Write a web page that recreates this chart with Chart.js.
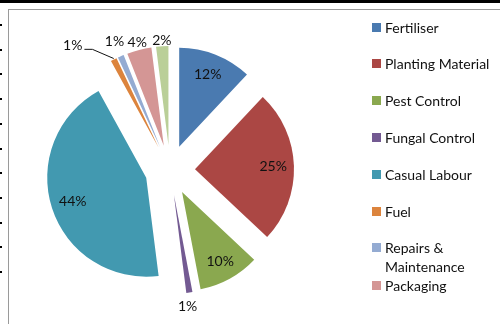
<!DOCTYPE html>
<html>
<head>
<meta charset="utf-8">
<script src="https://cdn.jsdelivr.net/npm/chart.js@4.4.1/dist/chart.umd.min.js"></script>
<style>
  body { margin: 0; background: #fff; overflow: hidden; }
  #wrap { position: relative; width: 500px; height: 324px; overflow: hidden; font-family: Lato, "Liberation Sans", sans-serif; }
  #topbar { position: absolute; left: 0; top: 0; width: 500px; height: 3px; background: #000; }
  #frame { position: absolute; left: 8px; top: 9px; width: 520px; height: 340px; border-left: 1px solid #9a9a9a; border-top: 1px solid #9a9a9a; }
  .tick { position: absolute; left: 0; width: 2px; height: 2px; background: #000; }
  #chart { position: absolute; left: 0; top: 0; }
  #legend { position: absolute; left: 372px; top: 0; width: 125px; font-size: 14px; color: #111; }
  .item { position: absolute; left: 0; width: 125px; line-height: 19px; }
  .sw { position: absolute; left: 0; top: 5px; width: 9px; height: 9px; }
  .txt { margin-left: 13px; width: 108px; }
</style>
</head>
<body>
<div id="wrap">
  <div id="topbar"></div>
  <div id="frame"></div>
  <canvas id="chart" width="500" height="324"></canvas>
  <div id="legend"></div>
</div>
<script>
  // cost shares, percent
  const categories = ['Fertiliser', 'Planting Material', 'Pest Control', 'Fungal Control', 'Casual Labour',
    'Fuel', 'Repairs & Maintenance', 'Packaging', 'Other'];
  const shares = [12, 25, 10, 1, 44, 1, 1, 4, 2];
  const colors = ['#4a7ab0', '#ab4744', '#8aa84f', '#735a92', '#4299b0', '#dc843d', '#94abd2', '#d49695', '#bacf98'];

  // label placement: radius factor from each exploded slice's own centre, plus a small turn in degrees
  const labelRadius = [0.78, 0.79, 0.8, 1.14, 0.78, 1.35, 1.16, 1.08, 1.06];
  const labelTurn = [0, 0, 0, 2, 0, -13, 0, 0, 0];

  // Excel-style explode: move the whole slice out, keep its shape
  class ExplodedArc extends Chart.ArcElement {
    static id = 'explodedArc';
    static defaults = { explode: 0 };
    draw(ctx, area) {
      const mid = (this.startAngle + this.endAngle) / 2;
      const d = this.options.explode || 0;
      ctx.save();
      ctx.translate(Math.cos(mid) * d, Math.sin(mid) * d);
      super.draw(ctx, area);
      ctx.restore();
    }
  }
  class ExplodedPie extends Chart.PieController {
    static id = 'explodedPie';
    static defaults = { dataElementType: 'explodedArc' };
  }
  Chart.register(ExplodedArc, ExplodedPie);

  // decorations of the cropped page
  const wrap = document.getElementById('wrap');
  for (let i = 0; i < 11; i++) {
    const t = document.createElement('div');
    t.className = 'tick';
    t.style.top = Math.round(24 + i * 24.7) + 'px';
    wrap.appendChild(t);
  }

  // legend (the last entry is cut off in the original)
  const legendTops = [18, 54, 91, 128, 165, 202, 238, 276];
  const legend = document.getElementById('legend');
  legendTops.forEach((top, i) => {
    const it = document.createElement('div');
    it.className = 'item';
    it.style.top = top + 'px';
    it.innerHTML = '<div class="sw" style="background:' + colors[i] + '"></div><div class="txt"></div>';
    it.querySelector('.txt').textContent = categories[i];
    legend.appendChild(it);
  });

  const sliceLabels = {
    id: 'sliceLabels',
    afterDatasetsDraw(chart) {
      const ctx = chart.ctx;
      const meta = chart.getDatasetMeta(0);
      const total = shares.reduce((a, b) => a + b, 0);
      ctx.save();
      ctx.font = '14px Lato, "Liberation Sans", sans-serif';
      ctx.fillStyle = '#111';
      ctx.textAlign = 'center';
      ctx.textBaseline = 'middle';
      meta.data.forEach((arc, i) => {
        const p = arc.getProps(['x', 'y', 'startAngle', 'endAngle', 'outerRadius'], true);
        const mid = (p.startAngle + p.endAngle) / 2;
        const off = arc.options.explode || 0;
        const cx = p.x + Math.cos(mid) * off;
        const cy = p.y + Math.sin(mid) * off;
        const a = mid + labelTurn[i] * Math.PI / 180;
        const lx = cx + Math.cos(a) * p.outerRadius * labelRadius[i];
        const ly = cy + Math.sin(a) * p.outerRadius * labelRadius[i];
        const text = Math.round(shares[i] / total * 100) + '%';
        ctx.fillText(text, lx, ly);
        if (i === 5) {
          // leader line for the crowded fuel label
          const w = ctx.measureText(text).width;
          const ex = cx + Math.cos(mid) * p.outerRadius;
          const ey = cy + Math.sin(mid) * p.outerRadius;
          ctx.strokeStyle = '#111';
          ctx.lineWidth = 1;
          ctx.beginPath();
          ctx.moveTo(lx + w / 2 + 2, ly + 4);
          ctx.lineTo(lx + w / 2 + 10, ly + 4);
          ctx.lineTo(ex, ey - 1);
          ctx.stroke();
        }
      });
      ctx.restore();
    }
  };

  new Chart(document.getElementById('chart'), {
    type: 'explodedPie',
    data: {
      labels: categories,
      datasets: [{
        data: shares,
        backgroundColor: colors,
        borderWidth: 0,
        explode: 25,
        radius: 99
      }]
    },
    options: {
      responsive: false,
      animation: false,
      layout: { padding: { left: 20, right: 180, top: 20, bottom: 4 } },
      plugins: {
        legend: { display: false },
        tooltip: { enabled: false }
      }
    },
    plugins: [sliceLabels]
  });
</script>
</body>
</html>
